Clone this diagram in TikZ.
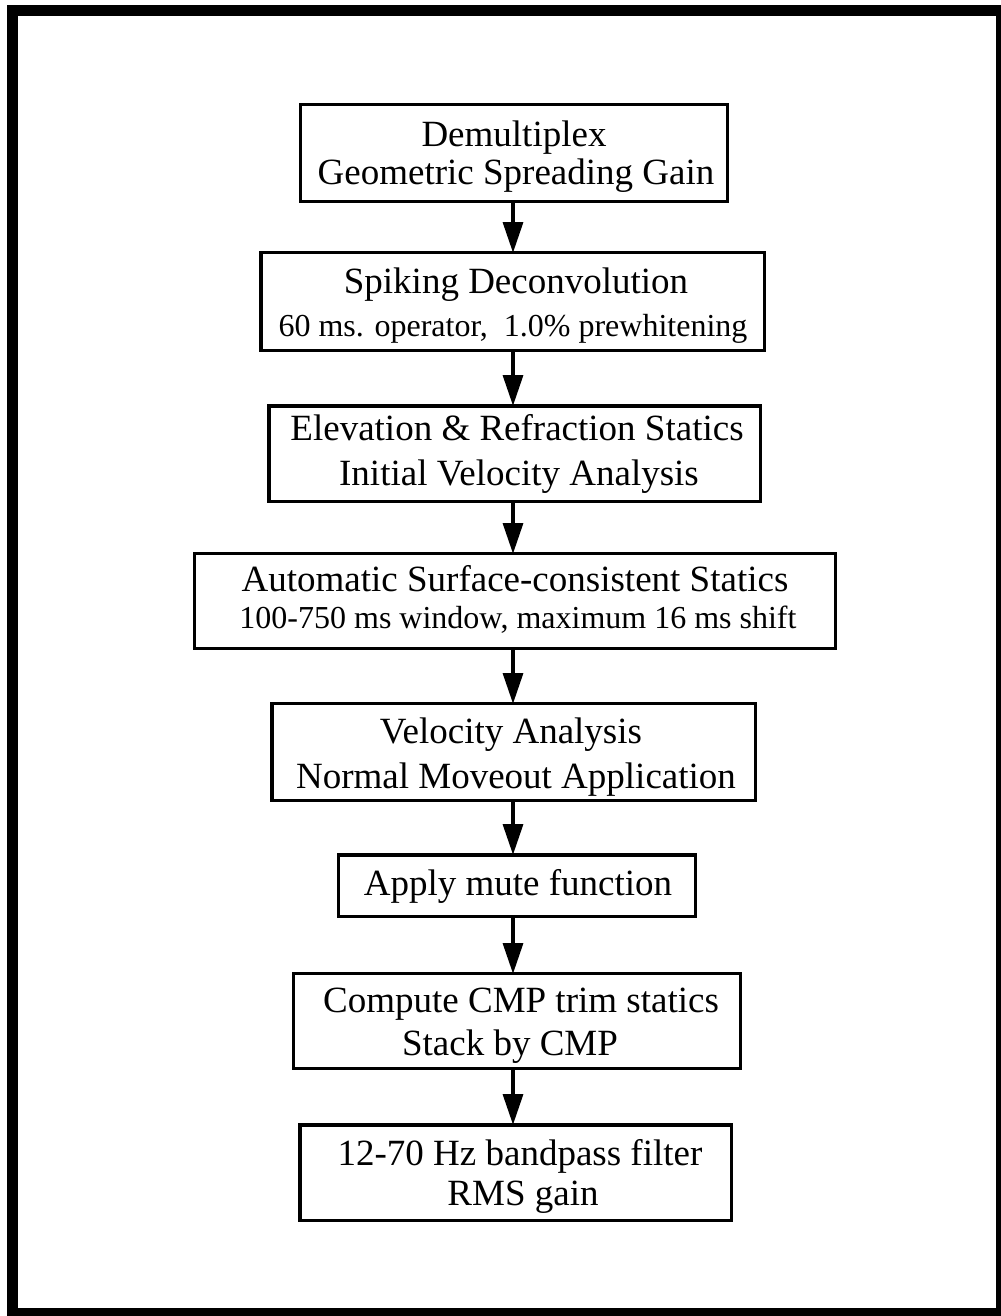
\documentclass[tikz,border=0pt]{standalone}
\usepackage{fontspec}
\setmainfont{Liberation Serif}
\usetikzlibrary{arrows.meta}
\begin{document}
\begin{tikzpicture}[x=0.75pt,y=-0.75pt,
  box/.style={draw, line width=2.6pt, inner sep=0pt, outer sep=0pt},
  main/.style={anchor=base, inner sep=0pt, font=\fontsize{27.75pt}{30pt}\selectfont},
  sub/.style={anchor=base, inner sep=0pt, font=\fontsize{24pt}{28pt}\selectfont},
  arr/.style={line width=2.4pt, -{Triangle[length=23pt,width=15pt]}},
  frame/.style={line width=8.25pt}]
\useasboundingbox (0,0) rectangle (1000,1316);
\draw[frame] (12.8,10.5) rectangle (1001,1313);

% boxes
\node[box, minimum width=319.9pt, minimum height=72.4pt] (b1) at (514,153) {};
\node[box, minimum width=377.6pt, minimum height=73.1pt] (b2) at (512.5,301.5) {};
\node[box, minimum width=368.6pt, minimum height=71.6pt] (b3) at (514.5,453.5) {};
\node[box, minimum width=480.4pt, minimum height=70.9pt] (b4) at (515,601) {};
\node[box, minimum width=362.6pt, minimum height=72.4pt] (b5) at (513.5,752) {};
\node[box, minimum width=267.4pt, minimum height=46.1pt] (b6) at (517,885.5) {};
\node[box, minimum width=334.9pt, minimum height=70.9pt] (b7) at (517,1021) {};
\node[box, minimum width=323.6pt, minimum height=71.6pt] (b8) at (515.5,1172.5) {};

% texts
\node[main] (t1a) at (514,147) {Demultiplex};
\node[main] (t1b) at (516,185) {Geometric Spreading Gain};
\node[main] (t2a) at (516,293) {Spiking Deconvolution};
\node[sub]  (t2b) at (513,336) {60 ms. operator,\hspace{0.5em}1.0\% prewhitening};
\node[main] (t3a) at (517,440) {Elevation \& Refraction Statics};
\node[main] (t3b) at (519,485) {Initial Velocity Analysis};
\node[main] (t4a) at (515,591) {Automatic Surface-consistent Statics};
\node[sub]  (t4b) at (518,628) {100-750 ms window, maximum 16 ms shift};
\node[main] (t5a) at (511,743) {Velocity Analysis};
\node[main] (t5b) at (516,788) {Normal Moveout Application};
\node[main] (t6a) at (518,895) {Apply mute function};
\node[main] (t7a) at (521,1012) {Compute CMP trim statics};
\node[main] (t7b) at (510,1055) {Stack by CMP};
\node[main] (t8a) at (520,1165) {12-70 Hz bandpass filter};
\node[main] (t8b) at (523,1205) {RMS gain};

% connectors
\coordinate (ax) at (513,0);
\draw[arr] (b1.south -| ax) -- (b2.north -| ax);
\draw[arr] (b2.south -| ax) -- (b3.north -| ax);
\draw[arr] (b3.south -| ax) -- (b4.north -| ax);
\draw[arr] (b4.south -| ax) -- (b5.north -| ax);
\draw[arr] (b5.south -| ax) -- (b6.north -| ax);
\draw[arr] (b6.south -| ax) -- (b7.north -| ax);
\draw[arr] (b7.south -| ax) -- (b8.north -| ax);
\end{tikzpicture}
\end{document}
